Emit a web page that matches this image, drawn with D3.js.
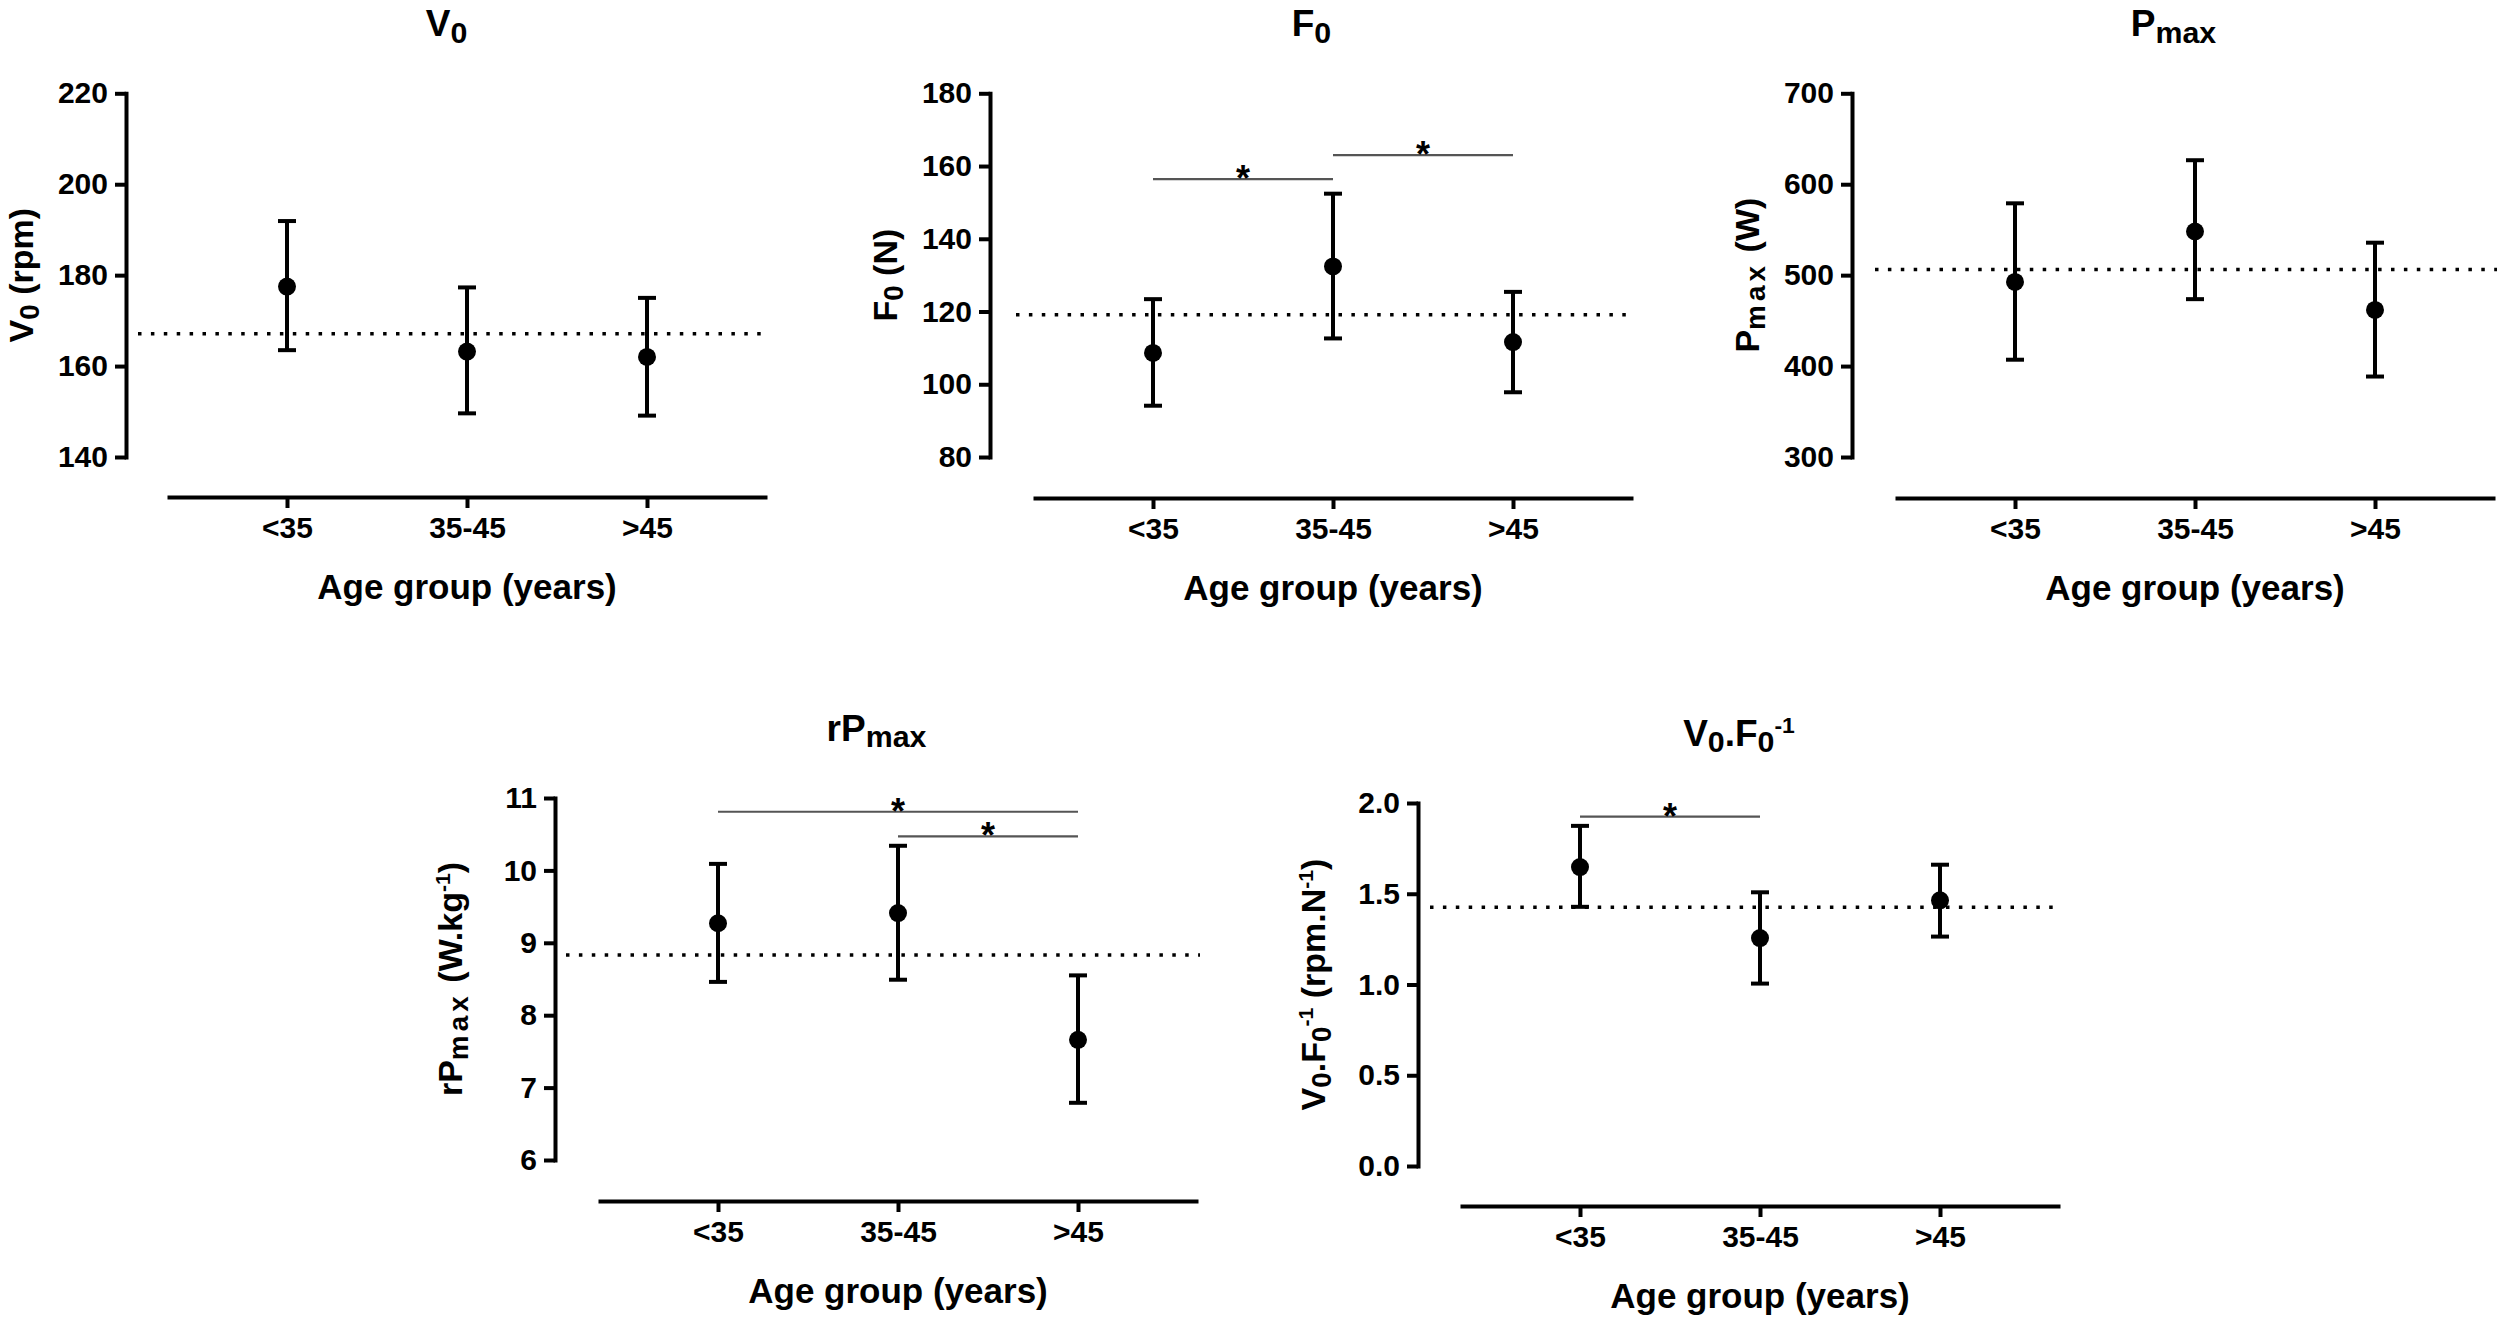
<!DOCTYPE html>
<html><head><meta charset="utf-8">
<script src="https://cdn.jsdelivr.net/npm/d3@7"></script>
<style>
html,body{margin:0;padding:0;background:#fff;}
svg text{font-family:"Liberation Sans",Arial,Helvetica,sans-serif;font-weight:bold;fill:#000;}
</style></head><body>
<svg id="chart" width="2500" height="1325"></svg>
<script>
// ---------- DATA ----------
const categories = ["<35", "35-45", ">45"];
const xAxisTitle = "Age group (years)";

const v0Mean  = [177.5, 163.2, 162.0];
const v0Upper = [191.9, 177.3, 175.0];
const v0Lower = [163.5, 149.6, 149.1];
const v0Ref   = 167.1;
const v0Ticks = [140, 160, 180, 200, 220];

const f0Mean  = [108.6, 132.4, 111.6];
const f0Upper = [123.4, 152.4, 125.4];
const f0Lower = [94.1, 112.6, 97.8];
const f0Ref   = 119.1;
const f0Ticks = [80, 100, 120, 140, 160, 180];
const f0SigFrom = [0, 1];
const f0SigTo   = [1, 2];
const f0SigY    = [156.4, 163.0];

const pmaxMean  = [492.5, 548.0, 461.7];
const pmaxUpper = [579.0, 626.4, 535.7];
const pmaxLower = [407.0, 473.6, 388.5];
const pmaxRef   = 506.2;
const pmaxTicks = [300, 400, 500, 600, 700];

const rpMean  = [9.27, 9.41, 7.66];
const rpUpper = [10.09, 10.34, 8.55];
const rpLower = [8.46, 8.49, 6.79];
const rpRef   = 8.83;
const rpTicks = [6, 7, 8, 9, 10, 11];
const rpSigFrom = [0, 1];
const rpSigTo   = [2, 2];
const rpSigY    = [10.81, 10.47];

const vfMean  = [1.647, 1.256, 1.464];
const vfUpper = [1.874, 1.508, 1.660];
const vfLower = [1.428, 1.005, 1.264];
const vfRef   = 1.425;
const vfTicks = [0.0, 0.5, 1.0, 1.5, 2.0];
const vfSigFrom = [0];
const vfSigTo   = [1];
const vfSigY    = [1.925];

// ---------- TEXT LABELS ----------
const titles = [
  [{t:"V"},{t:"0",sub:1}],
  [{t:"F"},{t:"0",sub:1}],
  [{t:"P"},{t:"max",sub:1}],
  [{t:"rP"},{t:"max",sub:1}],
  [{t:"V"},{t:"0",sub:1},{t:".F"},{t:"0",sub:1},{t:"-1",sup:1}]
];
const yTitles = [
  [{t:"V"},{t:"0",sub:1},{t:" (rpm)"}],
  [{t:"F"},{t:"0",sub:1},{t:" (N)"}],
  [{t:"P"},{t:"max",sub:1,ls:1},{t:" (W)"}],
  [{t:"rP"},{t:"max",sub:1,ls:1},{t:" (W.kg"},{t:"-1",sup:1},{t:")"}],
  [{t:"V"},{t:"0",sub:1},{t:".F"},{t:"0",sub:1},{t:"-1",sup:1},{t:"  (rpm.N"},{t:"-1",sup:1},{t:")"}]
];

// ---------- PANELS (data refs) ----------
const panels = [
  {mean:v0Mean, up:v0Upper, lo:v0Lower, ref:v0Ref, ticks:v0Ticks, fmt:d3.format("d"), sigFrom:[], sigTo:[], sigY:[]},
  {mean:f0Mean, up:f0Upper, lo:f0Lower, ref:f0Ref, ticks:f0Ticks, fmt:d3.format("d"), sigFrom:f0SigFrom, sigTo:f0SigTo, sigY:f0SigY},
  {mean:pmaxMean, up:pmaxUpper, lo:pmaxLower, ref:pmaxRef, ticks:pmaxTicks, fmt:d3.format("d"), sigFrom:[], sigTo:[], sigY:[]},
  {mean:rpMean, up:rpUpper, lo:rpLower, ref:rpRef, ticks:rpTicks, fmt:d3.format("d"), sigFrom:rpSigFrom, sigTo:rpSigTo, sigY:rpSigY},
  {mean:vfMean, up:vfUpper, lo:vfLower, ref:vfRef, ticks:vfTicks, fmt:d3.format(".1f"), sigFrom:vfSigFrom, sigTo:vfSigTo, sigY:vfSigY}
];

// ---------- LAYOUT ----------
const layout = [
  {x0:126,  yTop:93.3, yBot:457,  axisY:497,  xs:167,  xe:767,  refOff:12},
  {x0:990,  yTop:93.3, yBot:457,  axisY:498,  xs:1033, xe:1633, refOff:26},
  {x0:1852, yTop:93.3, yBot:457,  axisY:498,  xs:1895, xe:2495, refOff:23},
  {x0:555,  yTop:798,  yBot:1160, axisY:1201, xs:598,  xe:1198, refOff:11},
  {x0:1418, yTop:803,  yBot:1166, axisY:1206, xs:1460, xe:2060, refOff:12}
];

const svg = d3.select("#chart");
svg.append("rect").attr("width",2500).attr("height",1325).attr("fill","#fff");

function rich(textSel, segs, size) {
  let cur = 0;
  segs.forEach(s => {
    const ts = textSel.append("tspan").text(s.t);
    let target = 0;
    if (s.sub) { target = size * 0.17; ts.attr("font-size", size * 0.82); }
    else if (s.sup) { target = -size * 0.36; ts.attr("font-size", size * 0.62); }
    else { ts.attr("font-size", size); }
    if (s.ls) ts.attr("letter-spacing", size * 0.12);
    ts.attr("dy", target - cur);
    cur = target;
  });
}

panels.forEach((p, i) => {
  const L = layout[i];
  const g = svg.append("g");
  const y = d3.scaleLinear().domain([d3.min(p.ticks), d3.max(p.ticks)]).range([L.yBot, L.yTop]);
  const x = d3.scalePoint().domain(categories).range([L.xs, L.xe]).padding(2/3);

  // y axis
  const ya = g.append("g").attr("transform", `translate(${L.x0},0)`)
    .call(d3.axisLeft(y).tickValues(p.ticks).tickFormat(p.fmt).tickSize(11).tickSizeOuter(0).tickPadding(7));
  ya.attr("font-size", 30).attr("font-family", null);
  ya.select(".domain").attr("stroke", "#000").attr("stroke-width", 4).attr("stroke-linecap", "square");
  ya.selectAll(".tick line").attr("stroke", "#000").attr("stroke-width", 4);
  ya.selectAll(".tick text").attr("font-size", 30);

  // x axis
  const xa = g.append("g").attr("transform", `translate(0,${L.axisY})`)
    .call(d3.axisBottom(x).tickSize(11).tickSizeOuter(0).tickPadding(9));
  xa.attr("font-size", 30).attr("font-family", null);
  xa.select(".domain").attr("stroke", "#000").attr("stroke-width", 4);
  xa.selectAll(".tick line").attr("stroke", "#000").attr("stroke-width", 4);
  xa.selectAll(".tick text").attr("font-size", 30);

  // reference dotted line
  g.append("line")
    .attr("x1", L.x0 + L.refOff).attr("x2", L.xe + 2)
    .attr("y1", y(p.ref)).attr("y2", y(p.ref))
    .attr("stroke", "#000").attr("stroke-width", 3.5)
    .attr("stroke-dasharray", "3.5 9.4");

  // error bars
  const eb = g.append("g").attr("stroke", "#000").attr("stroke-width", 4);
  categories.forEach((c, j) => {
    const cx = x(c);
    eb.append("line").attr("x1", cx).attr("x2", cx).attr("y1", y(p.up[j])).attr("y2", y(p.lo[j]));
    eb.append("line").attr("x1", cx - 9).attr("x2", cx + 9).attr("y1", y(p.up[j])).attr("y2", y(p.up[j]));
    eb.append("line").attr("x1", cx - 9).attr("x2", cx + 9).attr("y1", y(p.lo[j])).attr("y2", y(p.lo[j]));
  });
  g.selectAll("circle.pt").data(p.mean).join("circle").attr("class", "pt")
    .attr("cx", (d, j) => x(categories[j])).attr("cy", d => y(d)).attr("r", 9).attr("fill", "#000");

  // significance bars
  p.sigY.forEach((v, k) => {
    const xa1 = x(categories[p.sigFrom[k]]), xa2 = x(categories[p.sigTo[k]]);
    g.append("line").attr("x1", xa1).attr("x2", xa2).attr("y1", y(v)).attr("y2", y(v))
      .attr("stroke", "#555").attr("stroke-width", 2.2);
    g.append("text").attr("x", (xa1 + xa2) / 2).attr("y", y(v) + 12)
      .attr("text-anchor", "middle").attr("font-size", 36).attr("font-weight", "normal").text("*");
  });

  // title
  const tt = g.append("text").attr("x", (L.x0 + L.xe) / 2).attr("y", L.yTop - 57)
    .attr("text-anchor", "middle");
  rich(tt, titles[i], 37);

  // x axis title
  g.append("text").attr("x", (L.xs + L.xe) / 2).attr("y", L.axisY + 102)
    .attr("text-anchor", "middle").attr("font-size", 35).text(xAxisTitle);

  // y axis title
  const yt = g.append("text")
    .attr("transform", `translate(${L.x0 - 93},${(L.yTop + L.yBot) / 2}) rotate(-90)`)
    .attr("text-anchor", "middle");
  rich(yt, yTitles[i], 34);
});
</script>
</body></html>
